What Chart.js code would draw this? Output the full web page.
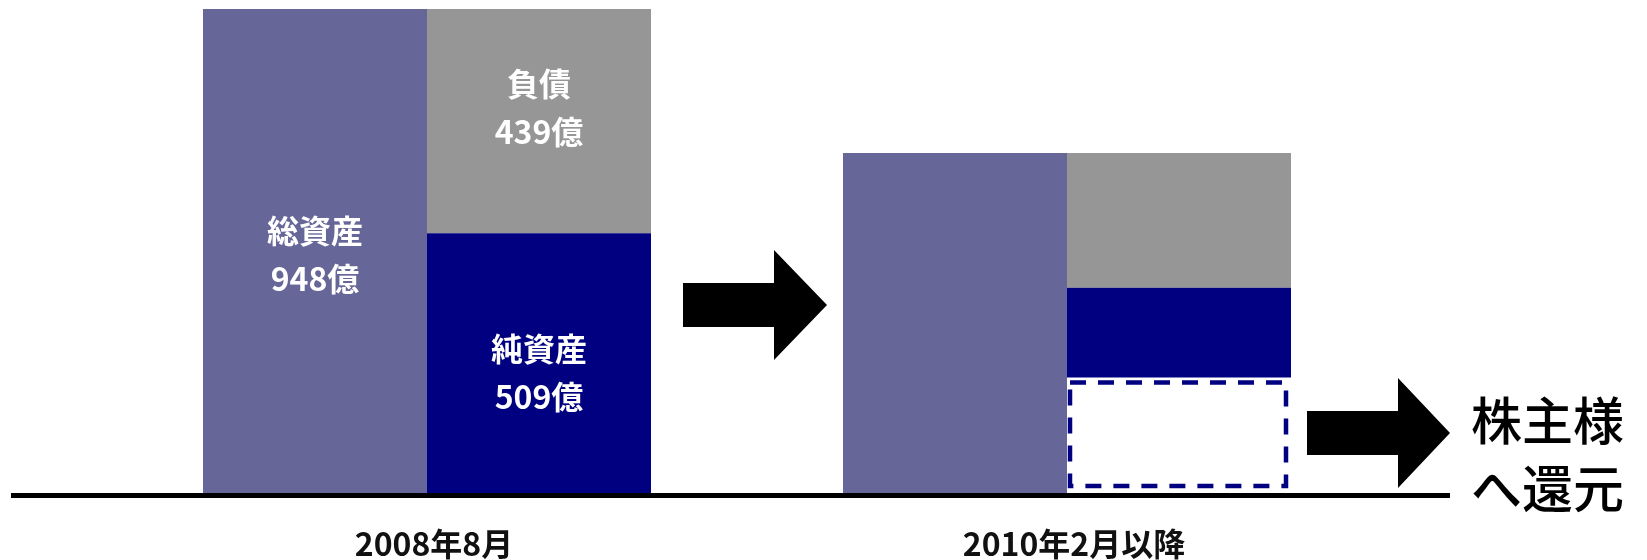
<!DOCTYPE html>
<html lang="ja">
<head>
<meta charset="utf-8">
<title>総資産・純資産の推移</title>
<script src="https://cdn.jsdelivr.net/npm/chart.js@4.4.1/dist/chart.umd.min.js"></script>
<style>
  html, body { margin: 0; padding: 0; background: #fff; }
  #wrap { position: relative; width: 1647px; height: 560px; }
</style>
</head>
<body>
<div id="wrap"><canvas id="bs"></canvas></div>
<script>
// 単位: 億円
const periods = ['2008年8月', '2010年2月以降'];
const totalAssets = [948, 666];
const returned = [0, 226];      // 株主還元分 (点線枠)
const netAssets = [509, 176];
const liabilities = [439, 264];
const sideNote = ['株主様', 'へ還元'];

const purple = '#666699';
const navy = '#000080';
const gray = '#969696';
const FONT = '"Noto Sans CJK JP", "Noto Sans", sans-serif';

// 矢印を塗りつぶしで描く
function drawArrow(ctx, x0, xHead, xTip, yMid, shaftH, headH) {
    ctx.beginPath();
    ctx.moveTo(x0, yMid - shaftH / 2);
    ctx.lineTo(xHead, yMid - shaftH / 2);
    ctx.lineTo(xHead, yMid - headH / 2);
    ctx.lineTo(xTip, yMid);
    ctx.lineTo(xHead, yMid + headH / 2);
    ctx.lineTo(xHead, yMid + shaftH / 2);
    ctx.lineTo(x0, yMid + shaftH / 2);
    ctx.closePath();
    ctx.fill();
}

// 棒の中に項目名と金額 (最初の期だけ)
const segmentLabels = {
    id: 'segmentLabels',
    afterDatasetsDraw(chart) {
        const ctx = chart.ctx;
        ctx.save();
        ctx.fillStyle = '#fff';
        ctx.font = `bold 32px ${FONT}`;
        ctx.textAlign = 'center';
        ctx.textBaseline = 'middle';
        chart.data.datasets.forEach((ds, i) => {
            if (!ds.caption) return;
            const bar = chart.getDatasetMeta(i).data[0];
            const c = bar.getCenterPoint();
            const cy = c.y + (ds.captionShift || 0);
            ctx.fillText(ds.caption, c.x, cy - 24);
            ctx.fillText(ds.data[0] + '億', c.x, cy + 24);
        });
        ctx.restore();
    }
};

// 点線枠、基準線、矢印、右側の注記
const decorations = {
    id: 'decorations',
    afterDatasetsDraw(chart) {
        const ctx = chart.ctx;
        ctx.save();

        const meta = chart.getDatasetMeta(1);
        meta.data.forEach((bar, i) => {
            if (!chart.data.datasets[1].data[i]) return;
            const p = bar.getProps(['x', 'y', 'base', 'width'], true);
            const left = p.x - p.width / 2;
            ctx.strokeStyle = navy;
            ctx.lineWidth = 4.5;
            ctx.setLineDash([16, 12]);
            ctx.strokeRect(left + 3, p.y + 5, p.width - 8, p.base - p.y - 12);
        });
        ctx.setLineDash([]);

        const y0 = chart.scales.y.getPixelForValue(0);
        ctx.fillStyle = '#000';
        ctx.fillRect(11, y0, 1439, 5);

        drawArrow(ctx, 683, 774, 827, 305, 44, 110);
        drawArrow(ctx, 1307, 1398, 1450, 433, 44, 110);

        ctx.font = `500 51px ${FONT}`;
        ctx.textAlign = 'left';
        ctx.textBaseline = 'middle';
        ctx.fillText(sideNote[0], 1471, 421);
        ctx.fillText(sideNote[1], 1471, 489);
        ctx.restore();
    }
};

new Chart(document.getElementById('bs'), {
    type: 'bar',
    data: {
        labels: periods,
        datasets: [
            { label: '総資産', caption: '総資産', captionShift: 4, data: totalAssets, backgroundColor: purple, stack: 'total' },
            { label: '株主還元', data: returned, backgroundColor: 'rgba(0,0,0,0)', stack: 'split' },
            { label: '純資産', caption: '純資産', captionShift: 10, data: netAssets, backgroundColor: navy, stack: 'split' },
            { label: '負債', caption: '負債', captionShift: -13, data: liabilities, backgroundColor: gray, stack: 'split' }
        ]
    },
    options: {
        responsive: true,
        maintainAspectRatio: false,
        animation: false,
        layout: { padding: { left: 107, right: 260, top: 9, bottom: 0 } },
        datasets: {
            bar: { categoryPercentage: 0.7, barPercentage: 1, borderWidth: 0 }
        },
        scales: {
            x: {
                stacked: true,
                grid: { display: false, drawTicks: false },
                border: { display: false },
                ticks: {
                    color: '#111',
                    font: { family: FONT, size: 32, weight: 'bold' },
                    padding: 32,
                    labelOffset: 7
                },
                afterFit: s => { s.height = 67; }
            },
            y: {
                stacked: true,
                display: false,
                min: 0,
                max: 948
            }
        },
        plugins: {
            legend: { display: false },
            tooltip: { enabled: false }
        }
    },
    plugins: [segmentLabels, decorations]
});
</script>
</body>
</html>
